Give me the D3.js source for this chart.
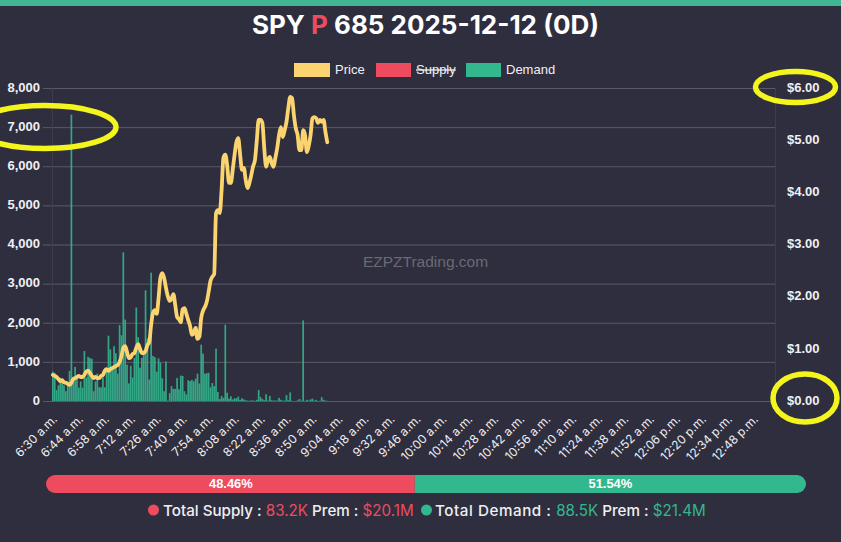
<!DOCTYPE html>
<html lang="en">
<head>
<meta charset="UTF-8">
<title>SPY P 685 2025-12-12 (0D)</title>
<script src="https://d3js.org/d3.v7.min.js"></script>
<style>
    html, body { margin: 0; padding: 0; background: #2f2e3e; overflow: hidden; }
    svg { display: block; }
    .poppins { font-family: Inter, Lato, sans-serif; }
    .arial { font-family: "Liberation Sans", Arial, sans-serif; }
    .axis path { display: none; }
</style>
</head>
<body>
<svg id="chart" width="841" height="542"></svg>
<script>
// 1 minute per bar, 6:30 a.m. to 12:59 p.m.
const demand = [750,720,280,400,600,500,400,250,450,770,7320,500,870,600,340,500,340,1280,600,1130,
    1100,1080,250,500,700,350,350,600,350,800,1670,1320,800,1400,1220,700,1940,1680,3800,2080,
    930,450,900,600,1100,2390,1630,850,1100,1200,2830,1600,550,3280,1150,1120,750,1090,980,580,
    250,1010,10,200,380,310,310,590,300,650,640,250,170,530,510,540,500,570,700,450,
    1440,1210,700,710,720,350,460,380,1340,230,50,130,80,1950,210,60,120,40,70,70,
    110,30,70,40,20,10,5,15,15,5,30,280,100,50,20,170,10,130,20,10,
    15,10,80,30,10,10,150,20,220,5,0,0,15,50,10,2060,5,30,10,40,
    60,10,30,0,5,100,30,10,5];
const price = [.50,.48,.46,.42,.38,.40,.36,.35,.33,.31,.35,.42,.44,.46,.48,.46,.46,.50,.56,.58,
    .54,.48,.44,.46,.44,.44,.48,.50,.58,.61,.58,.61,.63,.65,.67,.69,.75,.86,1.02,1.05,
    .94,.82,.84,.90,.92,1.02,1.09,1.00,.92,.92,.96,1.07,1.13,1.46,1.69,1.74,1.67,1.97,2.36,2.45,
    2.36,2.17,2.01,1.92,1.96,2.05,1.84,1.61,1.57,1.51,1.76,1.78,1.67,1.55,1.44,1.27,1.30,1.40,1.19,1.23,
    1.59,1.73,1.80,1.90,2.09,2.30,2.38,2.43,3.60,3.66,3.60,4.04,4.66,4.72,4.52,4.18,4.18,4.43,4.72,4.96,
    5.04,4.72,4.43,4.47,4.24,4.08,4.18,4.33,4.50,4.62,5.00,5.39,5.39,5.33,4.85,4.49,4.62,4.68,4.56,4.49,
    4.66,4.85,5.10,5.25,5.06,5.19,5.35,5.62,5.83,5.81,5.48,5.23,5.10,4.81,4.81,5.19,5.10,4.77,4.89,5.10,
    5.42,5.44,5.42,5.33,5.39,5.35,5.39,5.16,4.96];
const leftTicks = [0,1000,2000,3000,4000,5000,6000,7000,8000];
const rightTicks = [0,1,2,3,4,5,6];
const timeTicks = ["6:30 a.m.","6:44 a.m.","6:58 a.m.","7:12 a.m.","7:26 a.m.","7:40 a.m.","7:54 a.m.",
    "8:08 a.m.","8:22 a.m.","8:36 a.m.","8:50 a.m.","9:04 a.m.","9:18 a.m.","9:32 a.m.","9:46 a.m.",
    "10:00 a.m.","10:14 a.m.","10:28 a.m.","10:42 a.m.","10:56 a.m.","11:10 a.m.","11:24 a.m.","11:38 a.m.",
    "11:52 a.m.","12:06 p.m.","12:20 p.m.","12:34 p.m.","12:48 p.m."];
const minutesPerTick = 14;
const minuteCount = 390;
const legendNames = ["Price","Supply","Demand"];
const shareNames = ["Supply","Demand"];
const shares = [48.46,51.54];
const volumes = ["83.2K","88.5K"];
const premiums = ["$20.1M","$21.4M"];

const colors = { Price: "#fbd36f", Supply: "#ee4b5e", Demand: "#33b78f" };
const textColor = "#f0f0f3";
const gridColor = "#5a5a66";

const svg = d3.select("#chart");
const plotLeft = 52, plotRight = 775, plotTop = 88, plotBottom = 401;

svg.append("rect").attr("width", 841).attr("height", 6).attr("fill", "#40b695");

// title
svg.append("text").attr("class", "poppins").attr("x", 425.5).attr("y", 34)
    .attr("text-anchor", "middle").attr("font-size", 26).attr("font-weight", 700).attr("fill", "#fff")
    .call(t => {
        t.append("tspan").text("SPY ");
        t.append("tspan").attr("fill", colors.Supply).text("P");
        t.append("tspan").text(" 685 2025-12-12 (0D)");
    });

// scales
const x = d3.scaleBand().domain(d3.range(minuteCount)).range([plotLeft, plotRight]).paddingInner(0.08);
const yLeft = d3.scaleLinear().domain([0, 8000]).range([plotBottom, plotTop]);
const yRight = d3.scaleLinear().domain([0, 6]).range([plotBottom, plotTop]);

// axes
const gLeft = svg.append("g").attr("class", "axis arial").attr("transform", `translate(${plotLeft},0)`)
    .call(d3.axisLeft(yLeft).tickValues(leftTicks).tickFormat(d3.format(",")).tickSize(9).tickPadding(3));
gLeft.selectAll("line").attr("stroke", gridColor);
gLeft.selectAll("text").attr("fill", textColor).attr("font-size", 13).attr("font-weight", 700).attr("dy", "0.25em");

svg.append("g").selectAll("line").data(leftTicks).join("line")
    .attr("x1", plotLeft).attr("x2", plotRight)
    .attr("y1", d => yLeft(d) + 0.5).attr("y2", d => yLeft(d) + 0.5)
    .attr("stroke", gridColor).attr("stroke-width", 1);

svg.append("line").attr("x1", plotLeft + .5).attr("x2", plotLeft + .5).attr("y1", plotTop).attr("y2", plotBottom)
    .attr("stroke", "#3e3d4c");
svg.append("line").attr("x1", plotRight + .5).attr("x2", plotRight + .5).attr("y1", plotTop).attr("y2", plotBottom)
    .attr("stroke", "#3e3d4c");

const gRight = svg.append("g").attr("class", "axis arial").attr("transform", `translate(${plotRight},0)`)
    .call(d3.axisRight(yRight).tickValues(rightTicks).tickFormat(d => "$" + d.toFixed(2)).tickSize(0).tickPadding(12));
gRight.selectAll("text").attr("fill", textColor).attr("font-size", 13).attr("font-weight", 700).attr("dy", "0.25em");

// time labels, one every 14 minutes
const gX = svg.append("g").attr("class", "poppins");
gX.selectAll("text").data(timeTicks).join("text")
    .attr("transform", (d, i) => `translate(${x(i * minutesPerTick) + 3},${plotBottom + 16}) rotate(-45)`)
    .attr("text-anchor", "end").attr("dy", "0.35em")
    .attr("font-size", 12).attr("fill", textColor).text(d => d);

// bars
svg.append("g").selectAll("rect").data(demand).join("rect")
    .attr("x", (d, i) => x(i))
    .attr("width", x.bandwidth())
    .attr("y", d => yLeft(d))
    .attr("height", d => plotBottom - yLeft(d))
    .attr("fill", colors.Demand).attr("fill-opacity", 0.88);

// price line
const line = d3.line().x((d, i) => x(i) + x.bandwidth() / 2).y(d => yRight(d)).curve(d3.curveMonotoneX);
svg.append("path").datum(price).attr("d", line)
    .attr("fill", "none").attr("stroke", colors.Price).attr("stroke-width", 3.8)
    .attr("stroke-linejoin", "round").attr("stroke-linecap", "round");

// legend
const legendBoxes = [[294, 36], [376, 35], [466, 35]];
const legend = svg.append("g").attr("class", "arial");
legendNames.forEach((name, i) => {
    const [bx, bw] = legendBoxes[i];
    legend.append("rect").attr("x", bx).attr("y", 63).attr("width", bw).attr("height", 14).attr("fill", colors[name]);
    legend.append("text").attr("x", bx + bw + 5).attr("y", 74).attr("font-size", 13).attr("fill", textColor)
        .attr("text-decoration", name === "Supply" ? "line-through" : null).text(name);
});

// watermark
svg.append("text").attr("class", "arial").attr("x", 425.5).attr("y", 267).attr("text-anchor", "middle")
    .attr("font-size", 15.5).attr("fill", "#6a6a74").text("EZPZTrading.com");

// share bar
const shareX = d3.scaleLinear().domain([0, d3.sum(shares)]).range([47, 806]);
const defs = svg.append("defs");
defs.append("clipPath").attr("id", "barClip").append("rect")
    .attr("x", 46).attr("y", 475).attr("width", 760).attr("height", 18).attr("rx", 9);
const share = svg.append("g").attr("clip-path", "url(#barClip)");
shareNames.forEach((name, i) => {
    const start = d3.sum(shares.slice(0, i));
    share.append("rect").attr("x", i ? shareX(start) : 46).attr("y", 475)
        .attr("width", shareX(start + shares[i]) - shareX(start) + 1).attr("height", 18).attr("fill", colors[name]);
    svg.append("text").attr("class", "arial").attr("x", shareX(start + shares[i] / 2)).attr("y", 487.5)
        .attr("text-anchor", "middle")
        .attr("font-size", 12.9).attr("font-weight", 700).attr("fill", "#fff").text(shares[i].toFixed(2) + "%");
});

// totals line
const stats = [[148, 163, 0], [421, 435, 0.55]];
shareNames.forEach((name, i) => {
    svg.append("circle").attr("cx", stats[i][0] + 5.5).attr("cy", 510).attr("r", 5.5).attr("fill", colors[name]);
    svg.append("text").attr("class", "poppins").attr("x", stats[i][1]).attr("y", 516)
        .attr("font-size", 15.2).attr("font-weight", 500).attr("fill", textColor)
        .call(t => {
            t.append("tspan").attr("letter-spacing", stats[i][2]).text(`Total ${name} : `);
            t.append("tspan").attr("fill", colors[name]).attr("font-weight", 400).text(volumes[i]);
            t.append("tspan").text(" Prem : ");
            t.append("tspan").attr("fill", colors[name]).attr("font-weight", 400).text(premiums[i]);
        });
});

// yellow hand-drawn circles over the screenshot
const marks = [[45, 127, 71, 21.5], [795.5, 87, 40, 15.5], [805, 398, 32, 24]];
svg.append("g").selectAll("ellipse").data(marks).join("ellipse")
    .attr("cx", d => d[0]).attr("cy", d => d[1]).attr("rx", d => d[2]).attr("ry", d => d[3])
    .attr("fill", "none").attr("stroke", "#f5f51e").attr("stroke-width", 5.5);
</script>
</body>
</html>
